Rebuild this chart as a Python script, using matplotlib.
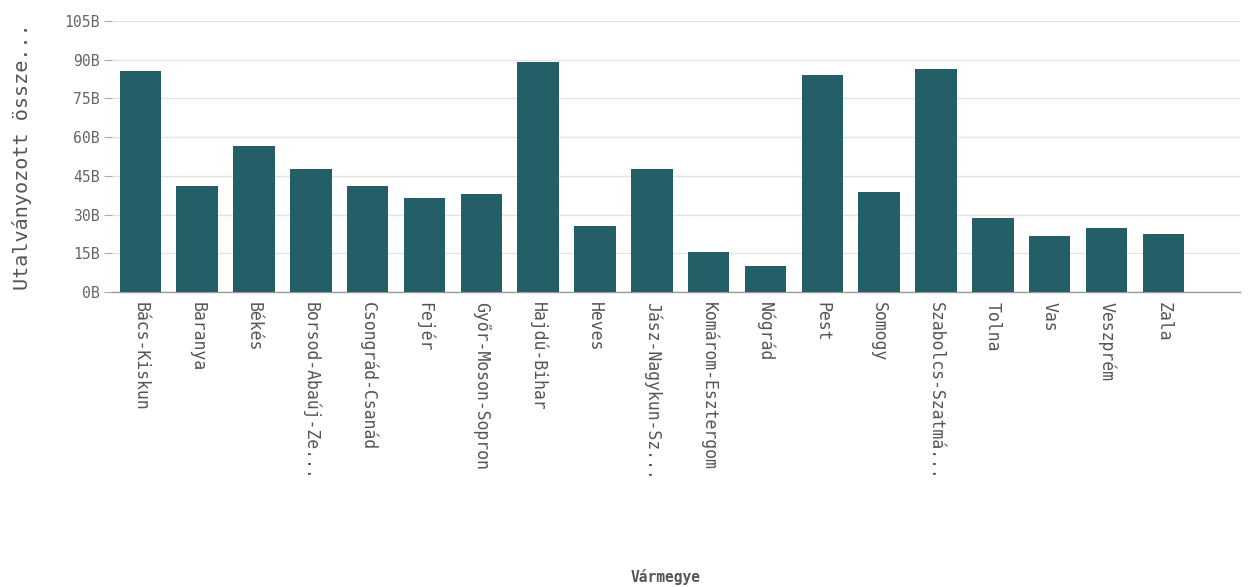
import matplotlib
matplotlib.use("Agg")
import matplotlib.pyplot as plt
from matplotlib.ticker import FuncFormatter

categories = ["Bács-Kiskun", "Baranya", "Békés", "Borsod-Abaúj-Ze...", "Csongrád-Csanád",
              "Fejér", "Győr-Moson-Sopron", "Hajdú-Bihar", "Heves", "Jász-Nagykun-Sz...",
              "Komárom-Esztergom", "Nógrád", "Pest", "Somogy", "Szabolcs-Szatmá...",
              "Tolna", "Vas", "Veszprém", "Zala"]
values_b = [85.5, 41.2, 56.7, 47.5, 41.2, 36.5, 38.1, 89.3, 25.6, 47.5,
            15.5, 10.0, 84.2, 38.8, 86.4, 28.7, 21.8, 24.7, 22.5]
y_ticks = [0, 15, 30, 45, 60, 75, 90, 105]

mono = ["DejaVu Sans Mono"]
fig = plt.figure(figsize=(12.5, 5.87), dpi=100)
ax = fig.add_axes([112/1250, 1-292/587, (1240-112)/1250, (292-21)/587])

x = list(range(len(categories)))
ax.bar(x, values_b, width=0.73, color="#245e66", zorder=3)

ax.set_xlim(-0.5, 19.35)
ax.set_ylim(0, 105)
ax.set_yticks(y_ticks)
ax.yaxis.set_major_formatter(FuncFormatter(lambda v, p: f"{int(v)}B"))
ax.grid(axis="y", color="#e4e4e4", linewidth=1, zorder=0)
ax.set_xticks(x)
ax.set_xticklabels(categories, rotation=-90, ha="center", va="top",
                   family=mono, fontsize=11.9, color="#555555")
for lab in ax.get_yticklabels():
    lab.set_family(mono)
ax.tick_params(axis="y", labelsize=10.6, colors="#666666", length=6, color="#aaaaaa", pad=3)
ax.tick_params(axis="x", length=0, pad=7)
for s in ["top", "right", "left"]:
    ax.spines[s].set_visible(False)
ax.spines["bottom"].set_color("#999999")
ax.spines["bottom"].set_linewidth(1)

fig.text(22/1250, 1-157/587, "Utalványozott össze...", rotation=90, ha="center", va="center",
         family=mono, fontsize=14.5, color="#555555")
fig.text(666/1250, 1-577/587, "Vármegye", ha="center", va="center",
         family=mono, fontsize=10.5, fontweight="bold", color="#555555")

fig.savefig("out.png", dpi=100)
